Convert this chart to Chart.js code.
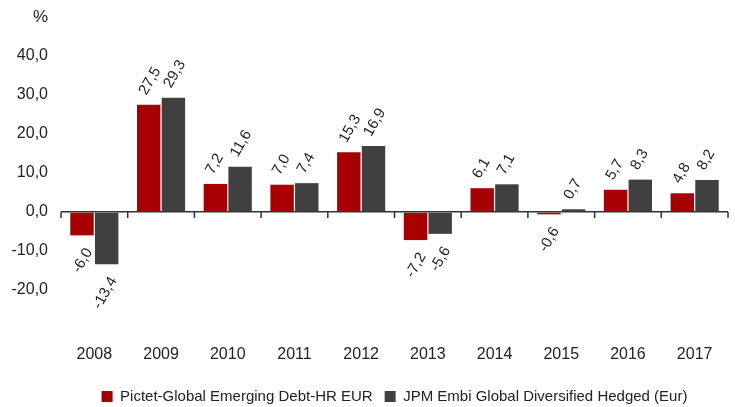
<!DOCTYPE html>
<html>
<head>
<meta charset="utf-8">
<script src="https://cdn.jsdelivr.net/npm/chart.js@4/dist/chart.umd.min.js"></script>
<style>
  html, body { margin: 0; padding: 0; background: #fff; }
  #wrap { width: 735px; height: 407px; }
</style>
</head>
<body>
<div id="wrap"><canvas id="chart"></canvas></div>
<script>
// data
const years = ['2008', '2009', '2010', '2011', '2012', '2013', '2014', '2015', '2016', '2017'];
const pictetValues = [-6.0, 27.5, 7.2, 7.0, 15.3, -7.2, 6.1, -0.6, 5.7, 4.8];
const jpmValues = [-13.4, 29.3, 11.6, 7.4, 16.9, -5.6, 7.1, 0.7, 8.3, 8.2];
const seriesNames = ['Pictet-Global Emerging Debt-HR EUR', 'JPM Embi Global Diversified Hedged (Eur)'];
const yMin = -30;
const yMax = 40;
const yStep = 10;

const sans = "'Liberation Sans', Arial, sans-serif";
const textColor = '#222222';

function fmt(v) {
    return v.toFixed(1).replace('.', ',');
}

// rotated value labels above / below each bar
const valueLabels = {
    id: 'valueLabels',
    afterDatasetsDraw(chart) {
        const ctx = chart.ctx;
        ctx.save();
        ctx.font = '15px ' + sans;
        ctx.fillStyle = textColor;
        ctx.textBaseline = 'middle';
        chart.data.datasets.forEach((ds, i) => {
            chart.getDatasetMeta(i).data.forEach((bar, j) => {
                const v = ds.data[j];
                ctx.save();
                if (v >= 0) {
                    ctx.translate(bar.x - 6, bar.y - 11);
                    ctx.textAlign = 'left';
                } else {
                    ctx.translate(bar.x + 7, bar.y + 14);
                    ctx.textAlign = 'right';
                }
                ctx.rotate(-Math.PI / 3);
                ctx.fillText(fmt(v), 0, 0);
                ctx.restore();
            });
        });
        ctx.restore();
    }
};

// tick marks on the zero line + "%" unit
const axisExtras = {
    id: 'axisExtras',
    afterDraw(chart) {
        const ctx = chart.ctx;
        const x = chart.scales.x;
        const y = chart.scales.y;
        const zero = y.getPixelForValue(0);
        ctx.save();
        ctx.strokeStyle = '#333333';
        ctx.lineWidth = 1.5;
        ctx.beginPath();
        for (let i = 0; i <= years.length; i++) {
            const px = x.getPixelForValue(i - 0.5);
            ctx.moveTo(px, zero);
            ctx.lineTo(px, zero + 6);
        }
        ctx.stroke();
        ctx.font = '17px ' + sans;
        ctx.fillStyle = textColor;
        ctx.textAlign = 'right';
        ctx.textBaseline = 'middle';
        ctx.fillText('%', y.right - 13, y.getPixelForValue(yMax + yStep));
        ctx.restore();
    }
};

new Chart(document.getElementById('chart'), {
    type: 'bar',
    data: {
        labels: years,
        datasets: [{
            label: seriesNames[0],
            data: pictetValues,
            backgroundColor: '#A80000',
            categoryPercentage: 0.74,
            barPercentage: 0.95
        }, {
            label: seriesNames[1],
            data: jpmValues,
            backgroundColor: '#404040',
            categoryPercentage: 0.74,
            barPercentage: 0.95
        }]
    },
    options: {
        responsive: true,
        maintainAspectRatio: false,
        animation: false,
        layout: { padding: { top: 56, right: 7, bottom: -7, left: 0 } },
        plugins: {
            legend: {
                position: 'bottom',
                fullSize: false,
                labels: {
                    boxWidth: 11,
                    boxHeight: 11,
                    padding: 12,
                    color: textColor,
                    font: { family: sans, size: 15 }
                }
            },
            tooltip: { enabled: false }
        },
        scales: {
            x: {
                grid: { display: false, drawTicks: false },
                border: { display: false },
                ticks: {
                    color: textColor,
                    padding: 16,
                    font: { family: sans, size: 16 }
                },
                afterFit(scale) { scale.height = 48; }
            },
            y: {
                min: yMin,
                max: yMax,
                border: { display: false },
                grid: {
                    drawTicks: false,
                    lineWidth: 1.5,
                    color: c => c.tick && c.tick.value === 0 ? '#333333' : 'rgba(0,0,0,0)'
                },
                ticks: {
                    stepSize: yStep,
                    padding: 13,
                    color: textColor,
                    font: { family: sans, size: 16 },
                    callback: v => v === yMin ? '' : fmt(v)
                },
                afterFit(scale) { scale.width = 61; }
            }
        }
    },
    plugins: [valueLabels, axisExtras]
});
</script>
</body>
</html>
